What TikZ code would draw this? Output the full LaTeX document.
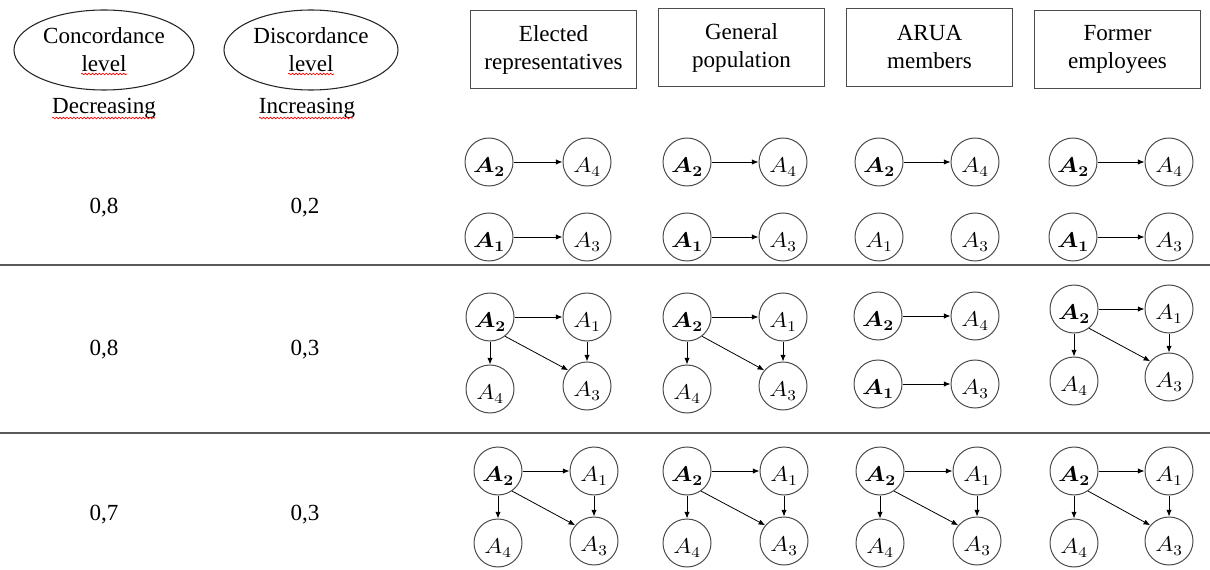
\documentclass[tikz,border=0pt]{standalone}
\usepackage{fix-cm}
\usepackage{amsmath}
\usepackage{fontspec}
\setmainfont{Liberation Serif}
\usetikzlibrary{shapes.geometric,arrows.meta,decorations.pathmorphing}
\newcommand\altB[1]{\scalebox{1.15}[1]{$\boldsymbol{A_{#1}}$}}
\newcommand\altR[1]{\scalebox{1.15}[1]{$A_{#1}$}}
\tikzset{
 hdr/.style={font=\fontsize{17.3}{21}\selectfont, align=center},
 oval/.style={ellipse, draw=black!85, line width=0.8pt, hdr, inner sep=0pt, minimum height=60pt},
 grp/.style={draw=black!70, line width=0.8pt, hdr, minimum width=125pt, minimum height=59pt, inner sep=0pt},
 alt/.style={circle, draw=black!70, line width=0.75pt, minimum size=36pt, inner sep=0pt, text height=16.4pt, text depth=0pt, font=\fontsize{16}{18}\selectfont},
 pref/.style={-{Latex[length=5pt,width=4pt]}, line width=0.6pt, black},
 sepline/.style={draw=black!65, line width=0.9pt},
 spell/.style={red, line width=0.5pt, decorate, decoration={snake, segment length=2.6pt, amplitude=0.6pt}}
}
\begin{document}
\begin{tikzpicture}[x=0.75pt,y=-0.75pt]
\useasboundingbox (0,0) rectangle (1210,570);
% header
\node[oval, minimum width=135pt] (conc) at (104,50) {Concordance\\level};
\node[oval, minimum width=130.5pt] (disc) at (311,50) {Discordance\\level};
\node[hdr] (dec) at (104,108) {Decreasing};
\node[hdr] (inc) at (307,108) {Increasing};
\draw[spell] (81,74) -- (127,74);
\draw[spell] (288,74) -- (334,74);
\draw[spell] (52,118) -- (155,118);
\draw[spell] (259,118) -- (353,118);
\node[grp] (g1) at (553.5,49.5) {Elected\\representatives};
\node[grp] (g2) at (741.5,47.5) {General\\population};
\node[grp] (g3) at (929.5,47.5) {ARUA\\members};
\node[grp] (g4) at (1117.5,49.5) {Former\\employees};
% separators
\coordinate (s1l) at (0,265); \coordinate (s1r) at (1210,265);
\coordinate (s2l) at (0,433); \coordinate (s2r) at (1210,433);
\draw[sepline] (s1l) -- (s1r);
\draw[sepline] (s2l) -- (s2r);
% values
\node[hdr] (c1) at (104,208) {0,8};
\node[hdr] (d1) at (305,208) {0,2};
\node[hdr] (c2) at (104,350) {0,8};
\node[hdr] (d2) at (305,350) {0,3};
\node[hdr] (c3) at (104,515) {0,7};
\node[hdr] (d3) at (305,515) {0,3};
% ---- row 1
\node[alt] (a11b) at (489,162) {\altB2};
\node[alt] (a11d) at (587,162) {\altR4};
\node[alt] (a11a) at (489,237) {\altB1};
\node[alt] (a11c) at (587,237) {\altR3};
\draw[pref] (a11b) -- (a11d);
\draw[pref] (a11a) -- (a11c);
\node[alt] (a12b) at (687,162) {\altB2};
\node[alt] (a12d) at (783,162) {\altR4};
\node[alt] (a12a) at (687,237) {\altB1};
\node[alt] (a12c) at (783,237) {\altR3};
\draw[pref] (a12b) -- (a12d);
\draw[pref] (a12a) -- (a12c);
\node[alt] (a13b) at (879,162) {\altB2};
\node[alt] (a13d) at (975,162) {\altR4};
\node[alt] (a13a) at (879,237) {\altR1};
\node[alt] (a13c) at (975,237) {\altR3};
\draw[pref] (a13b) -- (a13d);
\node[alt] (a14b) at (1073,162) {\altB2};
\node[alt] (a14d) at (1169,162) {\altR4};
\node[alt] (a14a) at (1073,237) {\altB1};
\node[alt] (a14c) at (1169,237) {\altR3};
\draw[pref] (a14b) -- (a14d);
\draw[pref] (a14a) -- (a14c);
% ---- row 2
\node[alt] (a21b) at (490,317) {\altB2};
\node[alt] (a21a) at (587,317) {\altR1};
\node[alt] (a21d) at (490,389) {\altR4};
\node[alt] (a21c) at (587,386) {\altR3};
\draw[pref] (a21b) -- (a21a);
\draw[pref] (a21b) -- (a21d);
\draw[pref] (a21a) -- (a21c);
\draw[pref] (a21b.-52) -- (a21c.140);
\node[alt] (a22b) at (687,317) {\altB2};
\node[alt] (a22a) at (783,317) {\altR1};
\node[alt] (a22d) at (687,389) {\altR4};
\node[alt] (a22c) at (783,386) {\altR3};
\draw[pref] (a22b) -- (a22a);
\draw[pref] (a22b) -- (a22d);
\draw[pref] (a22a) -- (a22c);
\draw[pref] (a22b.-52) -- (a22c.140);
\node[alt] (a23b) at (878,316) {\altB2};
\node[alt] (a23d) at (975,316) {\altR4};
\node[alt] (a23a) at (878,384) {\altB1};
\node[alt] (a23c) at (975,384) {\altR3};
\draw[pref] (a23b) -- (a23d);
\draw[pref] (a23a) -- (a23c);
\node[alt] (a24b) at (1074,309) {\altB2};
\node[alt] (a24a) at (1169,309) {\altR1};
\node[alt] (a24d) at (1074,381) {\altR4};
\node[alt] (a24c) at (1169,377) {\altR3};
\draw[pref] (a24b) -- (a24a);
\draw[pref] (a24b) -- (a24d);
\draw[pref] (a24a) -- (a24c);
\draw[pref] (a24b.-52) -- (a24c.140);
% ---- row 3
\node[alt] (a31b) at (498,471) {\altB2};
\node[alt] (a31a) at (594,471) {\altR1};
\node[alt] (a31d) at (498,543) {\altR4};
\node[alt] (a31c) at (594,541) {\altR3};
\draw[pref] (a31b) -- (a31a);
\draw[pref] (a31b) -- (a31d);
\draw[pref] (a31a) -- (a31c);
\draw[pref] (a31b.-55) -- (a31c.140);
\node[alt] (a32b) at (687,471) {\altB2};
\node[alt] (a32a) at (784,471) {\altR1};
\node[alt] (a32d) at (687,543) {\altR4};
\node[alt] (a32c) at (784,541) {\altR3};
\draw[pref] (a32b) -- (a32a);
\draw[pref] (a32b) -- (a32d);
\draw[pref] (a32a) -- (a32c);
\draw[pref] (a32b.-55) -- (a32c.140);
\node[alt] (a33b) at (880,471) {\altB2};
\node[alt] (a33a) at (977,471) {\altR1};
\node[alt] (a33d) at (880,543) {\altR4};
\node[alt] (a33c) at (977,541) {\altR3};
\draw[pref] (a33b) -- (a33a);
\draw[pref] (a33b) -- (a33d);
\draw[pref] (a33a) -- (a33c);
\draw[pref] (a33b.-55) -- (a33c.140);
\node[alt] (a34b) at (1074,471) {\altB2};
\node[alt] (a34a) at (1169,471) {\altR1};
\node[alt] (a34d) at (1074,543) {\altR4};
\node[alt] (a34c) at (1169,541) {\altR3};
\draw[pref] (a34b) -- (a34a);
\draw[pref] (a34b) -- (a34d);
\draw[pref] (a34a) -- (a34c);
\draw[pref] (a34b.-55) -- (a34c.140);
\end{tikzpicture}
\end{document}
